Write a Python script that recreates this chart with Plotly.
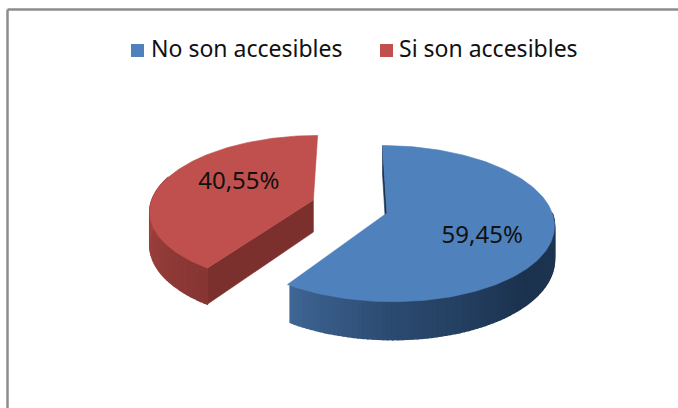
import numpy as np
import plotly.graph_objects as go

categories = ["No son accesibles", "Si son accesibles"]
values = [59.45, 40.55]
labels = ["59,45%", "40,55%"]
top_colors = ["#4f81bd", "#c0504d"]
radial_colors = ["#1c3350", "#7c302e"]
# side shading: (angle in degrees, RGB)
side_shades = [
    [(0, (28, 50, 78)), (90, (31, 54, 80)), (135, (28, 51, 80)), (180, (44, 75, 113)), (214, (64, 103, 150))],
    [(214, (135, 54, 52)), (240, (146, 60, 57)), (275, (163, 68, 65)), (360, (163, 68, 65))],
]

W, H = 678, 408
CX, CY, AX, BY, PERSP, DEPTH = 350.0, 207.0, 163.5, 75.0, 0.134, 32.5
offsets = [(0.2235, -0.0795), (-0.227, 0.0942)]
label_r = [0.62, 0.54]
label_turn = [11.5, 9.5]
START = 0.0


def project(ox, oy, r, theta, z=0.0):
    t = np.radians(theta)
    px = ox + r * np.sin(t)
    py = oy + r * np.cos(t)
    d = 1 + PERSP * py
    return CX + AX * px / d, CY - BY * py / d + DEPTH * z / d


def shade(table, a):
    angles = [s[0] for s in table]
    return "rgb(%d,%d,%d)" % tuple(
        np.interp(a, angles, [s[1][i] for s in table]) for i in range(3)
    )


def poly(xs, ys, color, lw=0.6):
    return go.Scatter(
        x=list(xs) + [xs[0]], y=list(ys) + [ys[0]], mode="lines", fill="toself",
        fillcolor=color, line=dict(color=color, width=lw), hoverinfo="skip",
        showlegend=False,
    )


fig = go.Figure()
total = sum(values)
a0 = START
spans = []
for v in values:
    a1 = a0 + 360 * v / total
    spans.append((a0, a1))
    a0 = a1

for i, (a, b) in enumerate(spans):
    ox, oy = offsets[i]
    # radial face on the visible cut
    x0, y0 = project(ox, oy, 0, a, 0)
    x1, y1 = project(ox, oy, 1, a, 0)
    x2, y2 = project(ox, oy, 1, a, 1)
    x3, y3 = project(ox, oy, 0, a, 1)
    fig.add_trace(poly([x0, x1, x2, x3], [y0, y1, y2, y3], radial_colors[i]))
    # outer wall, in small strips (front-facing part only)
    lo, hi = (90, b) if i == 0 else (a, 290)
    grid = np.arange(lo, hi + 0.01, 1.5)
    if i == 0:
        grid = grid[::-1]
    for g0, g1 in zip(grid[:-1], grid[1:]):
        x0, y0 = project(ox, oy, 1, g0, 0)
        x1, y1 = project(ox, oy, 1, g1, 0)
        x2, y2 = project(ox, oy, 1, g1, 1)
        x3, y3 = project(ox, oy, 1, g0, 1)
        fig.add_trace(poly([x0, x1, x2, x3], [y0, y1, y2, y3], shade(side_shades[i], (g0 + g1) / 2), 1.5))

for i, (a, b) in enumerate(spans):
    ox, oy = offsets[i]
    th = np.linspace(a, b, 160)
    xs, ys = project(ox, oy, 1, th)
    ax, ay = project(ox, oy, 0, 0)
    fig.add_trace(poly([ax] + list(xs), [ay] + list(ys), top_colors[i]))

# data labels
lx, ly = [], []
for i, (a, b) in enumerate(spans):
    x, y = project(offsets[i][0], offsets[i][1], label_r[i], (a + b) / 2 + label_turn[i])
    lx.append(float(x))
    ly.append(float(y))
fig.add_trace(go.Scatter(
    x=lx, y=ly, mode="text", text=labels, textposition="middle center",
    textfont=dict(family="Noto Sans", size=24, color="#111111"),
    hoverinfo="skip", showlegend=False,
))

# legend row
fig.add_trace(go.Scatter(
    x=[137.5, 386.5], y=[50.5, 50.5], mode="markers",
    marker=dict(symbol="square", size=13, color=top_colors),
    hoverinfo="skip", showlegend=False,
))
fig.add_trace(go.Scatter(
    x=[151, 399], y=[51, 51], mode="text", text=categories,
    textposition="middle right",
    textfont=dict(family="Noto Sans", size=23, color="#111111"),
    hoverinfo="skip", showlegend=False,
))

frame = "#8c8c8c"
fig.add_shape(type="line", x0=7.5, x1=W, y0=9.5, y1=9.5, line=dict(color=frame, width=2.5), layer="below")
fig.add_shape(type="line", x0=7.5, x1=7.5, y0=9.5, y1=H, line=dict(color=frame, width=2.5), layer="below")

fig.update_layout(
    width=W, height=H, margin=dict(l=0, r=0, t=0, b=0),
    paper_bgcolor="white", plot_bgcolor="white",
    xaxis=dict(range=[0, W], visible=False, fixedrange=True),
    yaxis=dict(range=[H, 0], visible=False, fixedrange=True),
    showlegend=False,
)
fig.write_html(
    "out.html",
    config={"displayModeBar": False},
    post_script="document.body.style.margin='0';document.documentElement.style.overflow='hidden';",
)
